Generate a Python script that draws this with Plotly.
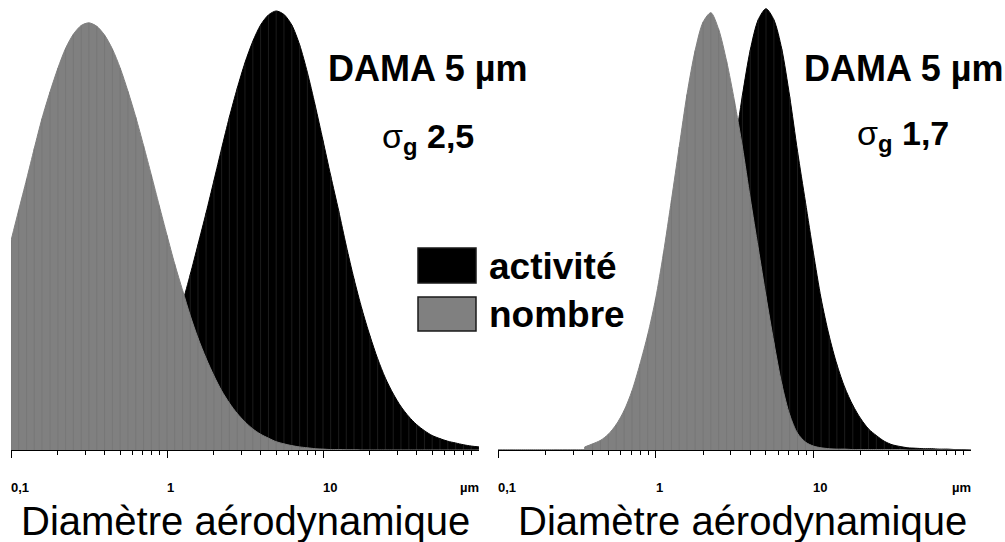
import math
import plotly.graph_objects as go

# Aerodynamic diameter samples (µm), 20 per decade
diam = [0.100, 0.112, 0.126, 0.141, 0.158, 0.178, 0.200, 0.224, 0.251, 0.282,
        0.316, 0.355, 0.398, 0.447, 0.501, 0.562, 0.631, 0.708, 0.794, 0.891,
        1.00, 1.12, 1.26, 1.41, 1.58, 1.78, 2.00, 2.24, 2.51, 2.82,
        3.16, 3.55, 3.98, 4.47, 5.01, 5.62, 6.31, 7.08, 7.94, 8.91,
        10.0, 11.2, 12.6, 14.1, 15.8, 17.8, 20.0, 22.4, 25.1, 28.2,
        31.6, 35.5, 39.8, 44.7, 50.1, 56.2, 63.1, 70.8, 79.4, 89.1, 100.0]

# Left panel (sigma_g 2.5) - relative frequency
left_nombre = [47.7, 54.6, 61.7, 68.7, 75.5, 81.6, 87.0, 91.5, 94.7, 96.7,
               97.3, 96.5, 94.5, 91.3, 87.0, 81.7, 75.8, 69.3, 62.6, 55.7,
               48.9, 42.4, 36.3, 30.6, 25.5, 20.9, 16.9, 13.5, 10.7, 8.3,
               6.4, 4.8, 3.6, 2.7, 1.9, 1.4, 1.0, 0.7, 0.5, 0.3,
               0.2, 0.1, 0.1, 0.05, 0.05, 0, 0, 0, 0, 0,
               0, 0, 0, 0, 0, 0, 0, 0, 0, 0, 0]
left_activite = [0.0, 0.0, 0.0, 0.1, 0.1, 0.2, 0.3, 0.4, 0.6, 0.9,
                 1.3, 1.9, 2.6, 3.6, 5.0, 6.6, 8.7, 11.4, 14.5, 18.3,
                 22.8, 27.9, 33.7, 40.0, 46.8, 54.0, 61.4, 68.7, 75.8, 82.4,
                 88.2, 93.1, 96.8, 99.1, 100.0, 99.2, 96.8, 92.3, 86.0, 78.5,
                 70.5, 62.5, 54.5, 46.5, 39.0, 32.0, 26.0, 20.8, 16.4, 12.8,
                 9.9, 7.6, 5.8, 4.4, 3.3, 2.6, 2.0, 1.6, 1.2, 0.9, 0.7]

# Right panel (sigma_g 1.7)
right_nombre = [None, None, None, None, None, None, None, None, None, None,
                None, 0.7, 1.4, 2.2, 3.6, 5.8, 9.0, 13.5, 19.5, 26.3,
                34.5, 44.8, 57.0, 69.0, 81.0, 91.0, 97.5, 99.6, 95.8, 88.5,
                79.5, 69.0, 57.3, 46.0, 35.0, 24.5, 15.0, 8.0, 3.8, 1.8,
                0.9, 0.5, 0.3, 0.2, 0.2, 0.1, 0.1, 0.1, 0.1, 0.1,
                0.1, 0.1, 0, 0, 0, 0, 0, 0, 0, 0, 0]
right_activite = [0.0, 0.0, 0.0, 0.0, 0.0, 0.0, 0.0, 0.0, 0.0, 0.0,
                  0.0, 0.0, 0.0, 0.0, 0.0, 0.0, 0.0, 0.1, 0.2, 0.5,
                  1.0, 1.8, 3.3, 5.7, 9.3, 14.6, 21.9, 31.2, 42.5, 55.2,
                  68.4, 80.8, 91.1, 98.0, 100.5, 98.0, 91.3, 80.5, 68.0, 56.5,
                  45.0, 34.5, 26.0, 19.5, 14.3, 10.2, 7.1, 4.8, 3.3, 2.0,
                  1.2, 0.8, 0.5, 0.4, 0.3, 0.3, 0.2, 0.2, 0.1, 0.1, 0.0]

tick_vals = [0.1, 1, 10]
tick_labels = ["0,1", "1", "10"]
unit_label = "µm"
minor_vals = [0.2, 0.3, 0.4, 0.5, 0.6, 0.7, 0.8, 0.9,
              2, 3, 4, 5, 6, 7, 8, 9, 20, 30, 40, 50, 60, 70, 80, 90]

for s in (left_nombre, left_activite, right_nombre, right_activite):
    assert len(s) == len(diam)

GREY = "#808080"
GREY_TEX = "#777777"
BLACK = "#000000"
BLACK_TEX = "#1c1c1c"
FONT = "Arial, Liberation Sans, sans-serif"


def texture(xs, ys, thr=0.6):
    lx, ly = [], []
    for x, y in zip(xs, ys):
        if y is not None and y > thr:
            lx += [x, x, None]
            ly += [0, y, None]
    return lx, ly


fig = go.Figure()
panels = [("x", "y", left_activite, left_nombre), ("x2", "y2", right_activite, right_nombre)]
for xa, ya, act, nom in panels:
    for vals, col, tex in ((act, BLACK, BLACK_TEX), (nom, GREY, GREY_TEX)):
        fig.add_trace(go.Scatter(x=diam, y=vals, mode="lines", xaxis=xa, yaxis=ya,
                                 line=dict(color=col, width=1, shape="spline", smoothing=0.8),
                                 fill="tozeroy", fillcolor=col, hoverinfo="skip",
                                 showlegend=False))
        tx, ty = texture(diam, vals)
        fig.add_trace(go.Scatter(x=tx, y=ty, mode="lines", xaxis=xa, yaxis=ya,
                                 line=dict(color=tex, width=1), hoverinfo="skip",
                                 showlegend=False))

W, H = 1005, 542
base_px = 450
ydom = [(H - base_px) / H, 1.0]
ymax = 102.5

xcommon = dict(type="log", range=[-1, 2], showline=True, linecolor="black", linewidth=1,
               tickmode="array", tickvals=tick_vals, showticklabels=False,
               ticks="outside", ticklen=7, tickwidth=1, tickcolor="black",
               minor=dict(tickmode="array", tickvals=minor_vals, ticks="outside",
                          ticklen=4, tickwidth=1, tickcolor="black", showgrid=False),
               showgrid=False, zeroline=False, fixedrange=True)
ycommon = dict(range=[0, ymax], visible=False, showgrid=False, zeroline=False,
               domain=ydom, fixedrange=True)

fig.update_layout(
    width=W, height=H, margin=dict(l=0, r=0, t=0, b=0),
    paper_bgcolor="white", plot_bgcolor="white", showlegend=False,
    xaxis=dict(domain=[11 / W, 479 / W], anchor="y", **xcommon),
    yaxis=dict(anchor="x", **ycommon),
    xaxis2=dict(domain=[498 / W, 971 / W], anchor="y2", **xcommon),
    yaxis2=dict(anchor="x2", **ycommon),
)

ann = []
tick_y = 1 - 487 / H
for xa in ("x", "x2"):
    for v, t in zip(tick_vals, tick_labels):
        ann.append(dict(x=math.log10(v), y=tick_y, xref=xa, yref="paper", text="<b>%s</b>" % t,
                        showarrow=False, xanchor="left", yanchor="middle",
                        font=dict(family=FONT, size=13, color="black"), xshift=-2))
    ann.append(dict(x=2, y=tick_y, xref=xa, yref="paper", text="<b>%s</b>" % unit_label,
                    showarrow=False, xanchor="right", yanchor="middle",
                    font=dict(family=FONT, size=13, color="black"), xshift=2))


def paper(px, py):
    return px / W, 1 - py / H


texts = [
    (326, 69, "<b>DAMA 5 µm</b>", 36),
    (802, 69, "<b>DAMA 5 µm</b>", 36),
    (380, 139, "σ<sub><b>g</b></sub> <b>2,5</b>", 34),
    (855, 136, "σ<sub><b>g</b></sub> <b>1,7</b>", 34),
    (487, 266, "<b>activité</b>", 37),
    (487, 314, "<b>nombre</b>", 37),
]
for px, py, t, fs in texts:
    x, y = paper(px, py)
    ann.append(dict(x=x, y=y, xref="paper", yref="paper", text=t, showarrow=False,
                    xanchor="left", yanchor="middle", font=dict(family=FONT, size=fs, color="black")))

for cx in (245, 742):
    x, y = paper(cx, 521)
    ann.append(dict(x=x, y=y, xref="paper", yref="paper", text="Diamètre aérodynamique",
                    showarrow=False, xanchor="center", yanchor="middle",
                    font=dict(family=FONT, size=40, color="black")))

fig.update_layout(annotations=ann)

# legend swatches
shapes = []
for (y0, y1, col) in ((248, 283, BLACK), (297, 331, GREY)):
    x0, yy1 = paper(418, y0)
    x1, yy0 = paper(476, y1)
    shapes.append(dict(type="rect", xref="paper", yref="paper", x0=x0, x1=x1, y0=yy0, y1=yy1,
                       fillcolor=col, line=dict(color="#1a1a1a", width=1.5)))
fig.update_layout(shapes=shapes)

fig.write_html("out.html", config={"displayModeBar": False, "staticPlot": True},
               post_script="document.body.style.margin='0';document.body.style.overflow='hidden';")
